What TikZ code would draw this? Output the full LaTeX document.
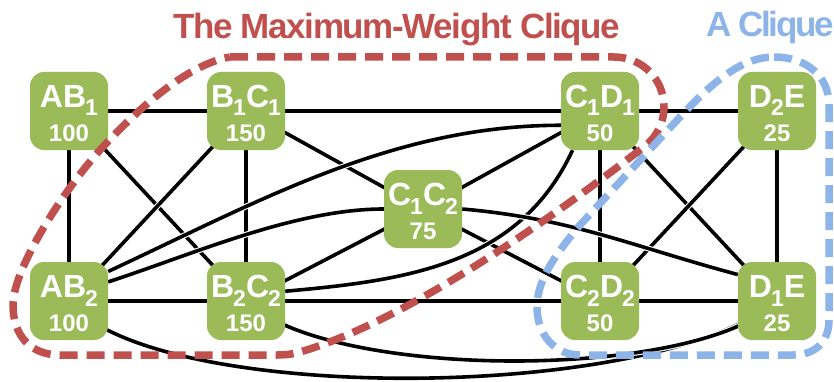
\documentclass[tikz,border=0pt]{standalone}
\usepackage{fontspec}
\setmainfont{Liberation Sans}
\newfontfamily\titlefont{Liberation Sans}[LetterSpace=-4]
\newfontfamily\titlefonttight{Liberation Sans}[LetterSpace=-7]
\usetikzlibrary{backgrounds}
\definecolor{cellgreen}{HTML}{9BBB59}
\definecolor{hullred}{HTML}{C0504D}
\definecolor{hullblue}{HTML}{8DB4E8}
\newcommand\sbs[1]{\kern-1pt\raisebox{-9pt}{\fontsize{23}{23}\selectfont #1}}
\newcommand\cellt[2]{%
  \makebox[0pt]{\raisebox{4pt}[0pt][0pt]{\fontsize{32}{32}\selectfont #1}}%
  \makebox[0pt]{\raisebox{-30pt}[0pt][0pt]{\fontsize{24}{24}\selectfont #2}}}
\tikzset{cell/.style = {rectangle, rounded corners=14pt, fill=cellgreen, text=white,
    font=\bfseries, minimum size=78pt, inner sep=0pt},
  link/.style = {line width=3.6pt, preaction={draw, white, line width=5.8pt}},
  hull/.style = {line width=7.5pt, dash pattern=on 18pt off 9pt}}

\begin{document}
\begin{tikzpicture}[x=1pt, y=1pt]
            \useasboundingbox (0,0) rectangle (834,381);

            \node [cell] (AB1)  at ( 69,270) {\cellt{AB\sbs{1}}{100}};
            \node [cell] (B1C1) at (246,270) {\cellt{B\sbs{1}C\sbs{1}}{150}};
            \node [cell] (C1D1) at (600,270) {\cellt{C\sbs{1}D\sbs{1}}{50}};
            \node [cell] (D2E)  at (777,270) {\cellt{D\sbs{2}E}{25}};
            \node [cell] (C1C2) at (423,172) {\cellt{C\sbs{1}C\sbs{2}}{75}};
            \node [cell] (AB2)  at ( 69, 80) {\cellt{AB\sbs{2}}{100}};
            \node [cell] (B2C2) at (246, 80) {\cellt{B\sbs{2}C\sbs{2}}{150}};
            \node [cell] (C2D2) at (600, 80) {\cellt{C\sbs{2}D\sbs{2}}{50}};
            \node [cell] (D1E)  at (777, 80) {\cellt{D\sbs{1}E}{25}};

            % edges, under the cells
            \begin{scope}[on background layer]
                \draw [link] (AB1.center) -- (B1C1.center) -- (C1D1.center) -- (D2E.center);
                \draw [link] (AB2.center) -- (B2C2.center) -- (C2D2.center) -- (D1E.center);
                \foreach \u/\v in {AB1/AB2, B1C1/B2C2, C1D1/C2D2, D2E/D1E,
                                   AB1/B2C2, B1C1/AB2, C1D1/D1E, D2E/C2D2,
                                   B1C1/C1C2, C1C2/C1D1, B2C2/C1C2, C1C2/C2D2}
                    \draw [link] (\u.center) -- (\v.center);
                \draw [link] (AB2.37) to [out=25, in=180, looseness=0.9] (C1D1.200);
                \draw [link] (AB2.26) to [out=18, in=180, looseness=0.8] (C1C2.west);
                \draw [link] (B2C2.14) to [out=5, in=245] (C1D1.235);
                \draw [link] (C1C2.east) to [out=-5, in=165] (D1E.146);
                \draw [link] (AB2.center) .. controls (150,-23) and (650,-23) .. (D1E.center);
                \draw [link] (B2C2.center) .. controls (330,0) and (700,0) .. (D1E.center);
            \end{scope}

            % the two cliques
            \draw [hull, hullred] (230,324) -- (614,324)
                .. controls (642,324) and (664,302) .. (664,274)
                .. controls (664,258.6) and (657,244.5) .. (645,235)
                .. controls (560,169) and (410,61) .. (300,29)
                .. controls (289,26) and (283,26) .. (275,26) -- (60,26)
                .. controls (30,26) and (13,46) .. (13,76)
                .. controls (13,111) and (60,186) .. (100,231)
                .. controls (135,269) and (185,316) .. (230,324) -- cycle;
            \draw [hull, hullblue] (774,324)
                .. controls (805,324) and (829,306) .. (829,276) -- (829,61)
                .. controls (829,39) and (815,26) .. (793,26) -- (580,26)
                .. controls (555,26) and (537,46) .. (537,74)
                .. controls (537,101) and (555,126) .. (580,156) -- (680,264)
                .. controls (710,296) and (740,324) .. (774,324) -- cycle;

            \node [anchor=base west, inner sep=0pt, text=hullred,
                   font=\titlefont\bfseries\fontsize{35}{35}\selectfont]
                (mwc) at (173,342) {The Maximum-Weight Clique};
            \node [anchor=base west, inner sep=0pt, text=hullblue,
                   font=\titlefonttight\bfseries\fontsize{35}{35}\selectfont]
                (anyc) at (706,344) {A Clique};
\end{tikzpicture}
\end{document}
